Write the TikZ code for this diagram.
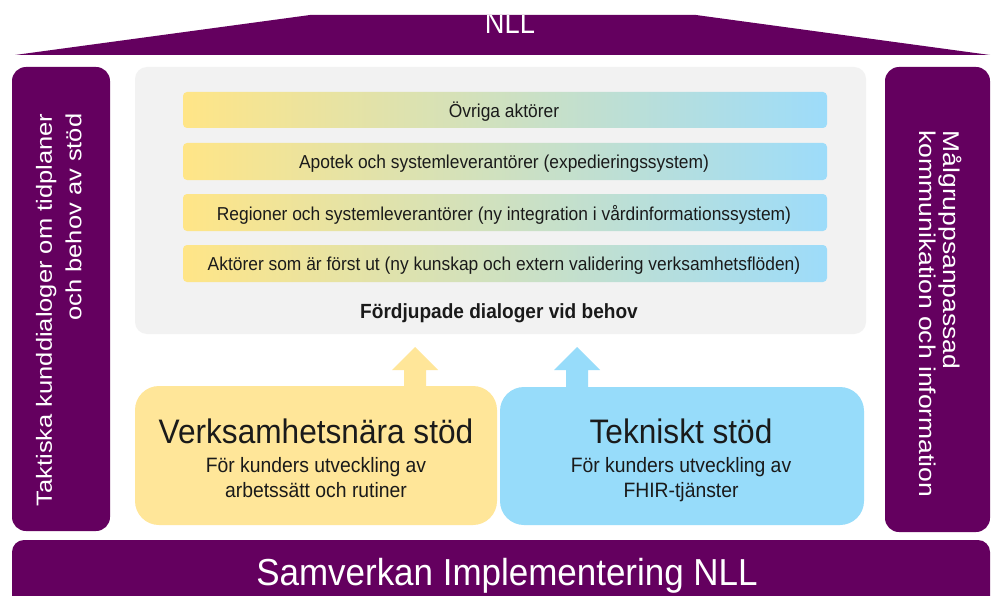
\documentclass[tikz,border=0pt]{standalone}
\usepackage{fontspec}
\usepackage{graphicx}
\setmainfont{Liberation Sans}
\definecolor{nllpurple}{HTML}{64005F}
\definecolor{panelgray}{HTML}{F2F2F2}
\definecolor{softyellow}{HTML}{FFE699}
\definecolor{softblue}{HTML}{97DCFA}
\definecolor{baryellow}{HTML}{FFE587}
\definecolor{barmid}{HTML}{E6E6E2}
\definecolor{barblue}{HTML}{9DDCFA}
\definecolor{inktext}{HTML}{1A1A1A}
\tikzset{
  fs/.style={font=\fontsize{#1}{#1}\selectfont},
  purplepanel/.style={fill=nllpurple, rounded corners=14pt},
  actorbar/.style={left color=baryellow, middle color=barmid, right color=barblue, rounded corners=4pt},
  bartext/.style={anchor=base, text=inktext, inner sep=0pt, fs=18.7},
  boxtext/.style={anchor=base, text=inktext, inner sep=0pt},
  whitetext/.style={text=white, inner sep=0pt},
}
\newcommand{\squeezeh}[1]{\scalebox{0.93}[1]{#1}}
\newcommand{\squeezev}[1]{\scalebox{1}[0.86]{#1}}
\begin{document}
\begin{tikzpicture}[x=1pt,y=-1pt]
\useasboundingbox (0,0) rectangle (992,596);
\fill[white] (0,0) rectangle (992,596);

% roof
\fill[nllpurple] (15,55) -- (310,15) -- (696,15) -- (990,55) -- cycle;
\begin{scope}
  \clip (15,55) -- (310,15) -- (696,15) -- (990,55) -- cycle;
  \node[whitetext, anchor=base, fs=31] (roof) at (510,34) {\scalebox{0.88}[1]{NLL}};
\end{scope}

% side pillars
\fill[purplepanel] (12,67) rectangle (110,531);
\fill[purplepanel] (885,67) rectangle (990,532);
\node[whitetext, rotate=90, fs=25.5] (tactic) at (62,310)
  {\squeezev{\begin{tabular}{@{}r@{}}Taktiska kunddialoger om tidplaner\\[8pt] och behov av stöd\end{tabular}}};
\node[whitetext, rotate=-90, fs=26.5] (target) at (937,314)
  {\squeezev{\begin{tabular}{@{}l@{}}Målgruppsanpassad\\[1pt] kommunikation och information\end{tabular}}};

% foundation
\fill[nllpurple] (12,600) [rounded corners=12pt] -- (12,540) -- (990,540) [sharp corners] -- (990,600) -- cycle;
\node[whitetext, anchor=base, fs=37.6] (base) at (507,585) {\squeezeh{Samverkan Implementering NLL}};

% deeper dialogues
\fill[panelgray, rounded corners=12pt] (135,67) rectangle (866,334);
\shade[actorbar] (183,92) rectangle (827,128);
\shade[actorbar] (183,143) rectangle (827,180);
\shade[actorbar] (183,194) rectangle (827,231);
\shade[actorbar] (183,245) rectangle (827,282);
\node[bartext] (a1) at (504,118) {\squeezeh{Övriga aktörer}};
\node[bartext] (a2) at (504,168) {\squeezeh{Apotek och systemleverantörer (expedieringssystem)}};
\node[bartext] (a3) at (504,220) {\squeezeh{Regioner och systemleverantörer (ny integration i vårdinformationssystem)}};
\node[bartext] (a4) at (504,270) {\squeezeh{Aktörer som är först ut (ny kunskap och extern validering verksamhetsflöden)}};
\node[boxtext, font=\bfseries\fontsize{20.5}{20.5}\selectfont] (deep) at (499,318) {\squeezeh{Fördjupade dialoger vid behov}};

% upward block arrows
\fill[softyellow] (404,395) -- (404,370) -- (392,370) -- (415,347) -- (438,370) -- (426,370) -- (426,395) -- cycle;
\fill[softblue] (566,395) -- (566,370) -- (554,370) -- (577,347) -- (600,370) -- (588,370) -- (588,395) -- cycle;

% support boxes
\fill[softyellow, rounded corners=24pt] (135,386) rectangle (497,525);
\fill[softblue, rounded corners=24pt] (500,387) rectangle (864,525);
\node[boxtext, fs=34] (ops) at (316,443) {\squeezeh{Verksamhetsnära stöd}};
\node[boxtext, fs=20.8] (ops1) at (316,472) {\squeezeh{För kunders utveckling av}};
\node[boxtext, fs=20.8] (ops2) at (316,497) {\squeezeh{arbetssätt och rutiner}};
\node[boxtext, fs=34] (tech) at (681,443) {\squeezeh{Tekniskt stöd}};
\node[boxtext, fs=20.8] (tech1) at (681,472) {\squeezeh{För kunders utveckling av}};
\node[boxtext, fs=20.8] (tech2) at (681,497) {\squeezeh{FHIR-tjänster}};
\end{tikzpicture}
\end{document}
